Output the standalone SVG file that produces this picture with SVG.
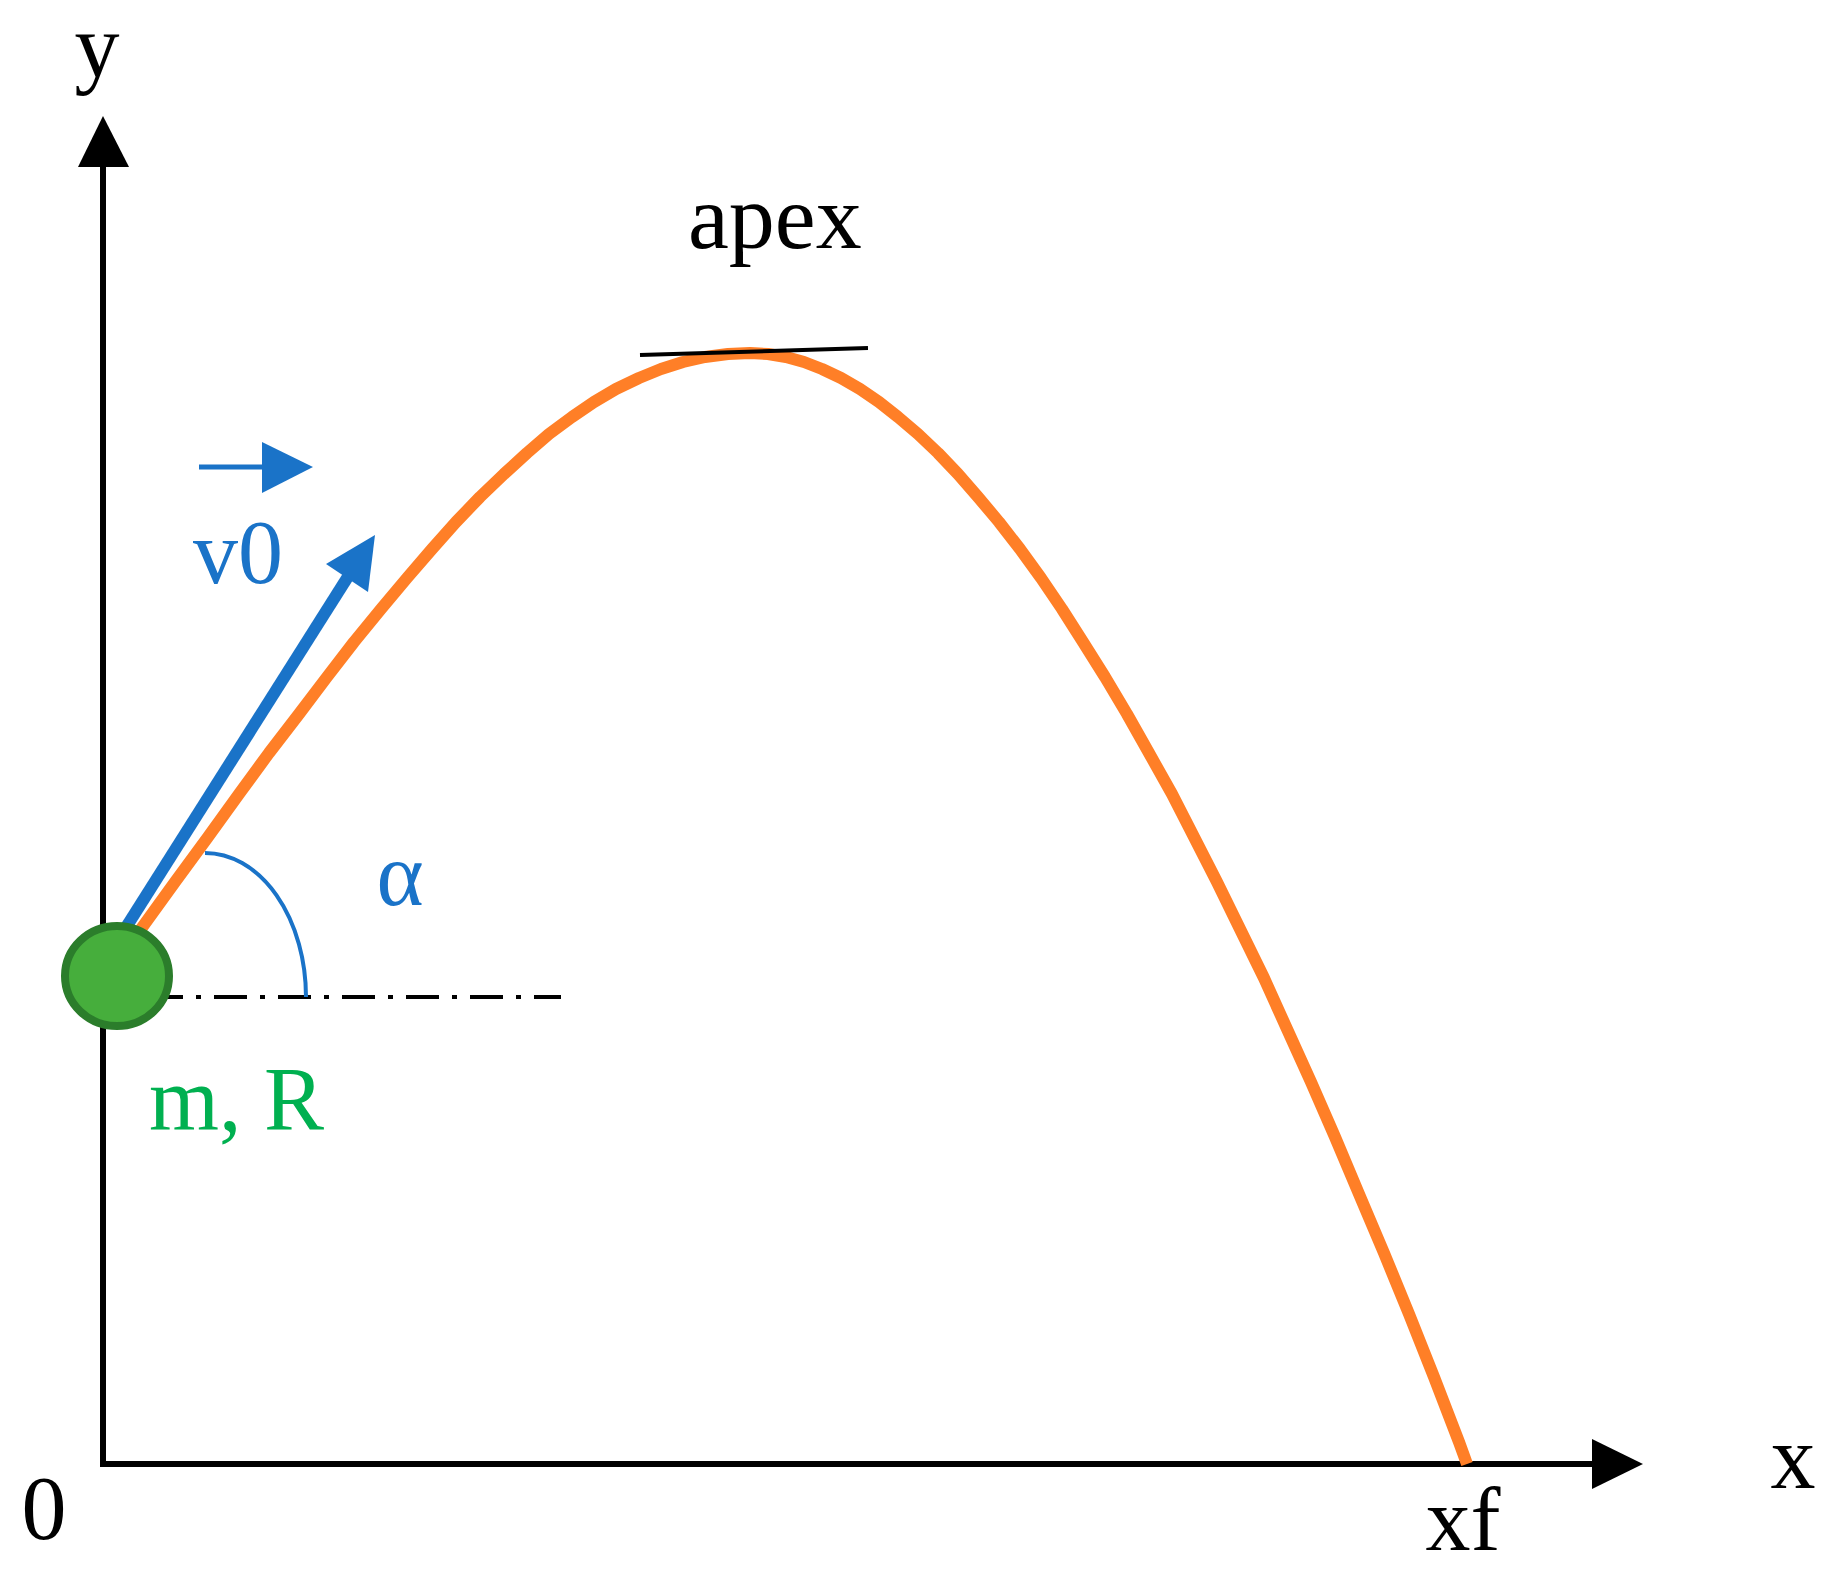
<svg xmlns="http://www.w3.org/2000/svg" width="1844" height="1579" viewBox="0 0 1844 1579">
<style>
.lbl{font-family:"Liberation Serif","Times New Roman",serif;font-size:90px}
.blk{fill:#000}
.blu{fill:#1a73c8}
.grn{fill:#00b050}
.axis{stroke:#000;stroke-width:6;fill:none}
</style>
<rect width="1844" height="1579" fill="#fff"/>
<g id="axes">
<line class="axis" x1="103" y1="1464" x2="103" y2="160"/>
<polygon points="78,167 103,116 129,167" fill="#000"/>
<line class="axis" x1="100" y1="1464" x2="1596" y2="1464"/>
<polygon points="1592,1439 1643,1464 1592,1489" fill="#000"/>
<text class="lbl blk" x="97" y="77" text-anchor="middle">y</text>
<text class="lbl blk" x="1793" y="1488" text-anchor="middle">x</text>
<text class="lbl blk" x="44" y="1539" text-anchor="middle">0</text>
</g>
<g id="connectors">
<path id="trajectory" d="M120,958 L141,929 L175,882 L208,837 L239,794 L269,753 L299,714 L327,677 L354,642 L381,609 L407,578 L432,549 L456,522 L480,497 L504,474 L527,453 L549,434 L572,417 L594,402 L616,389 L639,378 L661,369 L683,362 L705,357 L728,354 L750,353 L768,354 L786,357 L804,362 L822,369 L841,378 L860,389 L879,402 L898,417 L918,434 L938,453 L958,474 L978,497 L999,522 L1020,549 L1041,578 L1062,609 L1083,642 L1105,677 L1127,714 L1149,753 L1172,794 L1194,837 L1217,882 L1240,929 L1264,978 L1287,1029 L1311,1082 L1335,1137 L1359,1194 L1384,1253 L1409,1314 L1434,1377 L1459,1442 L1467,1464" fill="none" stroke="#ff7f27" stroke-width="12" stroke-linejoin="round"/>
<line id="apex-tangent" x1="640" y1="355" x2="868" y2="348" stroke="#000" stroke-width="4"/>
<line id="v0-shaft" x1="118" y1="940" x2="349" y2="575" stroke="#1a73c8" stroke-width="12"/>
<polygon id="v0-head" points="375,535 326,564 368,592" fill="#1a73c8"/>
<line id="v0-sym-shaft" x1="199" y1="467" x2="264" y2="467" stroke="#1a73c8" stroke-width="5"/>
<polygon id="v0-sym-head" points="262,442 313,467 262,493" fill="#1a73c8"/>
<line id="horizontal" x1="150" y1="997" x2="561" y2="997" stroke="#000" stroke-width="4" stroke-dasharray="33 13 5 13"/>
<path id="angle-arc" d="M205,853 A101,144 0 0 1 306,997" fill="none" stroke="#1a73c8" stroke-width="4"/>
</g>
<g id="ball">
<ellipse cx="117" cy="976" rx="52" ry="50" fill="#46ae3c" stroke="#2b7d2b" stroke-width="8"/>
<text class="lbl grn" x="149" y="1130">m, R</text>
</g>
<g id="labels">
<text class="lbl blk" x="688" y="248" style="font-size:92px">apex</text>
<text class="lbl blu" x="193" y="583">v0</text>
<text class="lbl blu" x="400" y="905" text-anchor="middle">α</text>
<text class="lbl blk" x="1463" y="1550" text-anchor="middle">xf</text>
</g>
</svg>
